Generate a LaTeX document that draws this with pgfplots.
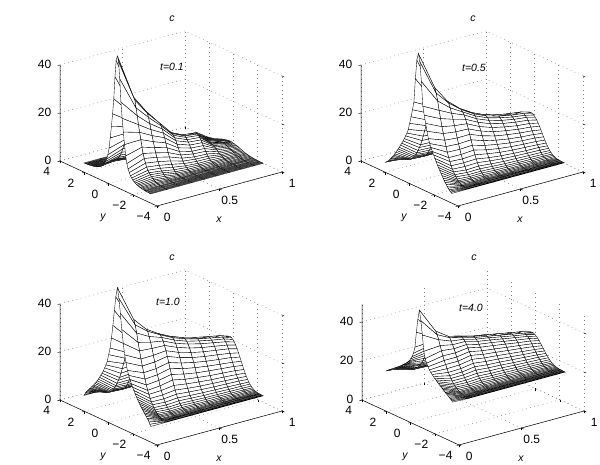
\documentclass[border=0pt]{standalone}
\usepackage{pgfplots}
\usepackage{pgfplotstable}
\usepackage{fontspec}
\setmainfont{Liberation Sans}
\pgfplotsset{compat=1.18}
% one column: z for k=0..28 steps away from the ridge line, one text line per x line
\pgfplotstableread[header=false,row sep=\\]{
51\\49\\42\\32.5\\26\\20.5\\15.5\\11\\8\\6\\4.7\\3.6\\2.9\\2.3\\1.8\\1.5\\1.2\\1\\.8\\.6\\.5\\.4\\.3\\.2\\.2\\.1\\.1\\0\\0\\
32\\31\\28\\25\\21.5\\18.5\\15.7\\12.8\\10.4\\8.5\\6.8\\5.4\\4.3\\3.5\\2.9\\2.3\\1.8\\1.4\\1.1\\.8\\.6\\.4\\.2\\.2\\.1\\.1\\0\\0\\0\\
24.7\\24.1\\22.6\\20.3\\18\\15.7\\13.4\\11.2\\9.2\\7.6\\6\\4.7\\3.7\\2.8\\2.3\\1.8\\1.3\\.9\\.6\\.4\\.3\\.2\\.1\\.1\\0\\0\\0\\0\\0\\
18.7\\18.5\\17.7\\16.6\\15.1\\13.4\\11.5\\9.7\\7.9\\6.3\\4.9\\3.7\\2.7\\1.9\\1.3\\.9\\.6\\.4\\.2\\.1\\.1\\.1\\0\\0\\0\\0\\0\\0\\0\\
13\\12.8\\12.3\\11.5\\10.5\\9.3\\8\\6.7\\5.5\\4.4\\3.4\\2.6\\1.9\\1.4\\.9\\.6\\.4\\.3\\.2\\.1\\.1\\0\\0\\0\\0\\0\\0\\0\\0\\
10.5\\10.4\\10\\9.3\\8.5\\7.5\\6.5\\5.4\\4.5\\3.5\\2.8\\2.1\\1.5\\1.1\\.8\\.5\\.3\\.2\\.1\\.1\\.1\\0\\0\\0\\0\\0\\0\\0\\0\\
9.9\\9.8\\9.4\\8.8\\8\\7.1\\6.1\\5.1\\4.2\\3.3\\2.6\\2\\1.4\\1\\.7\\.5\\.3\\.2\\.1\\.1\\0\\0\\0\\0\\0\\0\\0\\0\\0\\
5\\5\\4.8\\4.6\\4.3\\3.9\\3.5\\3.1\\2.6\\2.2\\1.8\\1.5\\1.2\\.9\\.8\\.6\\.4\\.3\\.2\\.1\\.1\\.1\\0\\0\\0\\0\\0\\0\\0\\
3.5\\3.4\\3.4\\3.3\\3.1\\2.9\\2.7\\2.4\\2.1\\1.9\\1.6\\1.4\\1.1\\.9\\.7\\.6\\.4\\.3\\.2\\.1\\.1\\.1\\0\\0\\0\\0\\0\\0\\0\\
2.8\\2.8\\2.7\\2.6\\2.5\\2.3\\2.2\\2\\1.8\\1.6\\1.4\\1.2\\1\\.8\\.7\\.6\\.5\\.4\\.3\\.2\\.2\\.1\\.1\\.1\\0\\0\\0\\0\\0\\
}\tA
\pgfplotstableread[header=false,row sep=\\]{
52\\49\\41\\31\\27.5\\24.3\\21.3\\18.5\\16.7\\15.3\\13.9\\12.7\\11.5\\10.5\\9.3\\8.4\\7.5\\6.6\\5.7\\4.9\\4.2\\3.5\\2.9\\2.3\\1.7\\1.2\\.8\\.5\\.2\\
36\\34\\31\\27.4\\24.2\\21.1\\18.5\\16\\13.6\\11.5\\9.5\\8.1\\6.6\\5.4\\4.5\\3.6\\2.9\\2.2\\1.7\\1.4\\1.1\\.8\\.6\\.5\\.4\\.3\\.3\\.2\\.2\\
29\\28.4\\26.7\\24.7\\22.5\\20.1\\17.8\\15.5\\13.3\\11.3\\9.4\\7.8\\6.4\\5.1\\3.9\\3.1\\2.4\\1.8\\1.4\\1.1\\.8\\.6\\.5\\.4\\.3\\.3\\.3\\.2\\.2\\
24.5\\24.3\\23.6\\22.6\\21.1\\19.5\\17.6\\15.6\\13.6\\11.6\\9.8\\8.1\\6.6\\5.3\\4.1\\3.2\\2.4\\1.9\\1.4\\1\\.8\\.6\\.5\\.4\\.3\\.3\\.2\\.2\\.2\\
21.3\\21.1\\20.5\\19.6\\18.4\\16.9\\15.3\\13.6\\11.8\\10.1\\8.5\\7.1\\5.7\\4.6\\3.6\\2.8\\2.2\\1.6\\1.2\\.9\\.7\\.5\\.4\\.4\\.3\\.3\\.2\\.2\\.2\\
19\\18.8\\18.3\\17.5\\16.4\\15.1\\13.6\\12.1\\10.6\\9.1\\7.6\\6.3\\5.1\\4.1\\3.2\\2.5\\1.9\\1.5\\1.1\\.9\\.7\\.5\\.4\\.3\\.3\\.3\\.2\\.2\\.2\\
17.5\\17.3\\16.9\\16.1\\15.1\\13.9\\12.6\\11.2\\9.7\\8.3\\7\\5.8\\4.7\\3.8\\3\\2.3\\1.8\\1.4\\1\\.8\\.6\\.5\\.4\\.3\\.3\\.3\\.2\\.2\\.2\\
16.4\\16.3\\15.8\\15.1\\14.2\\13\\11.8\\10.5\\9.1\\7.8\\6.6\\5.5\\4.4\\3.6\\2.8\\2.2\\1.7\\1.3\\1\\.8\\.6\\.5\\.4\\.3\\.3\\.2\\.2\\.2\\.2\\
15.7\\15.6\\15.1\\14.5\\13.6\\12.5\\11.3\\10\\8.7\\7.5\\6.3\\5.2\\4.3\\3.4\\2.7\\2.1\\1.6\\1.3\\1\\.7\\.6\\.5\\.4\\.3\\.3\\.2\\.2\\.2\\.2\\
14.7\\14.6\\14.2\\13.5\\12.7\\11.7\\10.6\\9.4\\8.2\\7\\5.9\\4.9\\4\\3.2\\2.5\\2\\1.5\\1.2\\.9\\.7\\.5\\.4\\.4\\.3\\.3\\.2\\.2\\.2\\.2\\
}\tB
\pgfplotstableread[header=false,row sep=\\]{
54\\50\\44\\37.5\\32\\27.5\\24.5\\21.5\\19.7\\18.2\\16.7\\15.5\\14.4\\13.3\\12.3\\11.4\\10.5\\9.8\\9\\8.4\\7.8\\7.1\\6.6\\6\\5.4\\4.9\\4.2\\3.4\\2.7\\
39\\37\\33.9\\30.3\\27\\23.9\\21.2\\18.7\\16.3\\14.1\\12.1\\10.7\\9.2\\8\\7.1\\6.1\\5.4\\4.8\\4.3\\3.9\\3.6\\3.4\\3.1\\3\\2.9\\2.8\\2.8\\2.7\\2.7\\
33.5\\32.9\\31\\28.9\\26.6\\24\\21.5\\19\\16.7\\14.6\\12.6\\10.9\\9.3\\7.9\\6.7\\5.8\\5\\4.4\\3.9\\3.6\\3.4\\3.2\\3\\2.9\\2.8\\2.8\\2.8\\2.7\\2.7\\
30.2\\30\\29.2\\28\\26.4\\24.5\\22.4\\20.1\\17.9\\15.7\\13.6\\11.6\\9.9\\8.4\\7.1\\6.1\\5.2\\4.6\\4\\3.7\\3.4\\3.2\\3\\2.9\\2.8\\2.8\\2.8\\2.7\\2.7\\
27.6\\27.4\\26.7\\25.6\\24.2\\22.4\\20.5\\18.5\\16.4\\14.4\\12.5\\10.8\\9.2\\7.9\\6.7\\5.8\\5\\4.4\\3.9\\3.6\\3.3\\3.1\\3\\2.9\\2.8\\2.8\\2.7\\2.7\\2.7\\
25.7\\25.5\\24.8\\23.9\\22.5\\20.9\\19.1\\17.3\\15.4\\13.5\\11.8\\10.2\\8.7\\7.5\\6.4\\5.5\\4.8\\4.3\\3.8\\3.5\\3.3\\3.1\\3\\2.9\\2.8\\2.8\\2.7\\2.7\\2.7\\
24.3\\24.1\\23.5\\22.6\\21.3\\19.8\\18.1\\16.4\\14.6\\12.9\\11.2\\9.7\\8.4\\7.2\\6.2\\5.4\\4.7\\4.2\\3.8\\3.5\\3.2\\3.1\\2.9\\2.9\\2.8\\2.8\\2.7\\2.7\\2.7\\
23.2\\23\\22.4\\21.6\\20.4\\19\\17.4\\15.7\\14\\12.4\\10.8\\9.4\\8.1\\7\\6\\5.2\\4.6\\4.1\\3.7\\3.4\\3.2\\3\\2.9\\2.9\\2.8\\2.8\\2.7\\2.7\\2.7\\
22.2\\22\\21.5\\20.6\\19.5\\18.2\\16.6\\15.1\\13.4\\11.9\\10.4\\9\\7.8\\6.8\\5.8\\5.1\\4.5\\4\\3.7\\3.4\\3.2\\3\\2.9\\2.8\\2.8\\2.8\\2.7\\2.7\\2.7\\
21\\20.8\\20.3\\19.5\\18.5\\17.2\\15.8\\14.3\\12.8\\11.3\\9.9\\8.6\\7.5\\6.5\\5.6\\5\\4.4\\3.9\\3.6\\3.3\\3.1\\3\\2.9\\2.8\\2.8\\2.8\\2.7\\2.7\\2.7\\
}\tC
\pgfplotstableread[header=false,row sep=\\]{
55\\50\\43\\35\\31.5\\29.5\\28\\26.7\\25.8\\25\\24.3\\23.7\\23.1\\22.5\\21.9\\21.4\\20.9\\20.4\\20\\19.5\\19\\18.6\\18.2\\17.8\\17.4\\17\\16.6\\16.2\\15.8\\
42\\40.5\\38.3\\35.6\\33.3\\31\\29\\27.2\\25.4\\23.8\\22.4\\21.3\\20.3\\19.3\\18.7\\18\\17.5\\17\\16.6\\16.4\\16.2\\16\\15.8\\15.7\\15.6\\15.6\\15.6\\15.5\\15.5\\
37.6\\37.2\\35.8\\34.3\\32.6\\30.8\\29\\27.2\\25.6\\24\\22.6\\21.4\\20.3\\19.3\\18.4\\17.7\\17.2\\16.7\\16.4\\16.2\\16\\15.8\\15.7\\15.7\\15.6\\15.6\\15.5\\15.5\\15.5\\
35.8\\35.6\\35\\34.2\\33\\31.6\\30\\28.4\\26.7\\25\\23.5\\22.1\\20.8\\19.7\\18.8\\18\\17.4\\16.9\\16.5\\16.2\\16\\15.8\\15.7\\15.6\\15.6\\15.6\\15.5\\15.5\\15.5\\
34\\33.8\\33.3\\32.5\\31.4\\30.2\\28.7\\27.2\\25.7\\24.2\\22.8\\21.5\\20.3\\19.3\\18.5\\17.8\\17.2\\16.8\\16.4\\16.1\\15.9\\15.8\\15.7\\15.6\\15.6\\15.6\\15.5\\15.5\\15.5\\
32.9\\32.7\\32.3\\31.5\\30.5\\29.3\\27.9\\26.5\\25.1\\23.7\\22.4\\21.2\\20.1\\19.1\\18.3\\17.6\\17.1\\16.7\\16.4\\16.1\\15.9\\15.8\\15.7\\15.6\\15.6\\15.6\\15.5\\15.5\\15.5\\
31.6\\31.5\\31\\30.3\\29.4\\28.3\\27\\25.7\\24.4\\23.1\\21.9\\20.7\\19.7\\18.8\\18.1\\17.5\\17\\16.6\\16.3\\16.1\\15.9\\15.8\\15.7\\15.6\\15.6\\15.6\\15.5\\15.5\\15.5\\
30.4\\30.3\\29.8\\29.2\\28.3\\27.3\\26.2\\25\\23.7\\22.5\\21.4\\20.3\\19.4\\18.6\\17.9\\17.3\\16.9\\16.5\\16.2\\16\\15.9\\15.7\\15.7\\15.6\\15.6\\15.5\\15.5\\15.5\\15.5\\
29.2\\29.1\\28.7\\28.1\\27.3\\26.4\\25.3\\24.2\\23\\22\\20.9\\20\\19.1\\18.3\\17.7\\17.2\\16.8\\16.4\\16.2\\16\\15.8\\15.7\\15.7\\15.6\\15.6\\15.5\\15.5\\15.5\\15.5\\
28\\27.9\\27.5\\27\\26.3\\25.4\\24.4\\23.4\\22.4\\21.4\\20.4\\19.6\\18.8\\18.1\\17.5\\17\\16.7\\16.4\\16.1\\15.9\\15.8\\15.7\\15.6\\15.6\\15.6\\15.5\\15.5\\15.5\\15.5\\
}\tD
\pgfplotsset{
  pan/.style={
    anchor=origin,clip=false,
    x={(125pt,34pt)},y={(-12.125pt,5.625pt)},
    xmin=0,xmax=1,ymin=-4,ymax=4,zmin=0,
    xtick={0,0.5,1},xticklabels={0,0.5,1},
    ytick={-4,-2,0,2,4},yticklabels={−4,−2,0,2,4},
    ztick={0,20,40},zticklabels={0,20,40},
    grid=major,
    grid style={dash pattern=on 0.7pt off 3.6pt,line width=0.55pt,black!50},
    axis line style={draw=none},
    tick style={black,line width=0.4pt},
    major tick length=2.5pt,
    tick align=outside,
    xtick pos=left,ytick pos=left,ztick pos=left,
    tick label style={font=\fontsize{12}{14}\selectfont},
    x tick label style={anchor=center,xshift=8pt,yshift=-10pt},
    y tick label style={anchor=center,xshift=-11pt,yshift=-10pt},
    z tick label style={anchor=east,xshift=-3pt},
    xlabel={x},ylabel={y},
    xlabel style={font=\fontsize{10.5}{12}\itshape,anchor=center,at={(rel axis cs:0,0,0)},xshift=62pt,yshift=-14pt},
    ylabel style={font=\fontsize{10.5}{12}\itshape,anchor=center,rotate=0,at={(rel axis cs:0,0,0)},xshift=-54pt,yshift=-12pt},
  },
  sheet/.style={
    surf,shader=faceted,faceted color=black,line width=0.36pt,
    colormap={wh}{color=(white) color=(white)},
    z buffer=sort,mesh/rows=10,mesh/cols=29,
  },
}
\newcommand{\panel}[9]{%
  % #1,#2 place; #3 table; #4 text; #5,#6 text offset; #7 z unit; #8 zmax; #9 first y step (the step shrinks linearly so that the sheet ends 2.75 from the ridge)
  \pgfmathsetmacro{\yb}{(#9*28-2.75)/784}%
  \begin{axis}[pan,at={(#1pt,#2pt)},z={(0pt,#7pt)},zmax=#8]
    \addplot3[sheet] table[x index=0,y index=0,z index=0,x expr={min(1,0.13+0.1*floor(\coordindex/29))-0.03*(\coordindex<29)},y expr={0.3+#9*mod(\coordindex,29)-\yb*mod(\coordindex,29)^2},z expr=\thisrowno{0}] {#3};
    \addplot3[sheet] table[x index=0,y index=0,z index=0,x expr={min(1,0.13+0.1*floor(\coordindex/29))-0.03*(\coordindex<29)},y expr={0.3-#9*mod(\coordindex,29)+\yb*mod(\coordindex,29)^2},z expr=\thisrowno{0}] {#3};
    \draw[black,line width=0.5pt] (axis cs:0,4,#8)--(axis cs:0,4,0)--(axis cs:0,-4,0)--(axis cs:1,-4,0);
    \node[font=\fontsize{10.5}{12}\itshape,xshift=#5pt,yshift=#6pt] at (rel axis cs:0,0,0) {#4};
    \node[font=\fontsize{10.5}{12}\itshape,xshift=15pt,yshift=187pt] at (rel axis cs:0,0,0) {c};
  \end{axis}%
}
\begin{document}
\begin{tikzpicture}[x=1pt,y=1pt]
\useasboundingbox (0,0) rectangle (600,465);
\panel{108.5}{281.5}{\tA}{t=0.1}{15}{139}{2.4}{40}{0.09821}
\panel{409.5}{281.5}{\tB}{t=0.5}{16}{138}{2.4}{40}{0.125}
\panel{108.5}{42.5}{\tC}{t=1.0}{11}{143}{2.4}{40}{0.125}
\panel{410.5}{42.5}{\tD}{t=4.0}{12}{137}{1.95}{49}{0.125}
\end{tikzpicture}
\end{document}
